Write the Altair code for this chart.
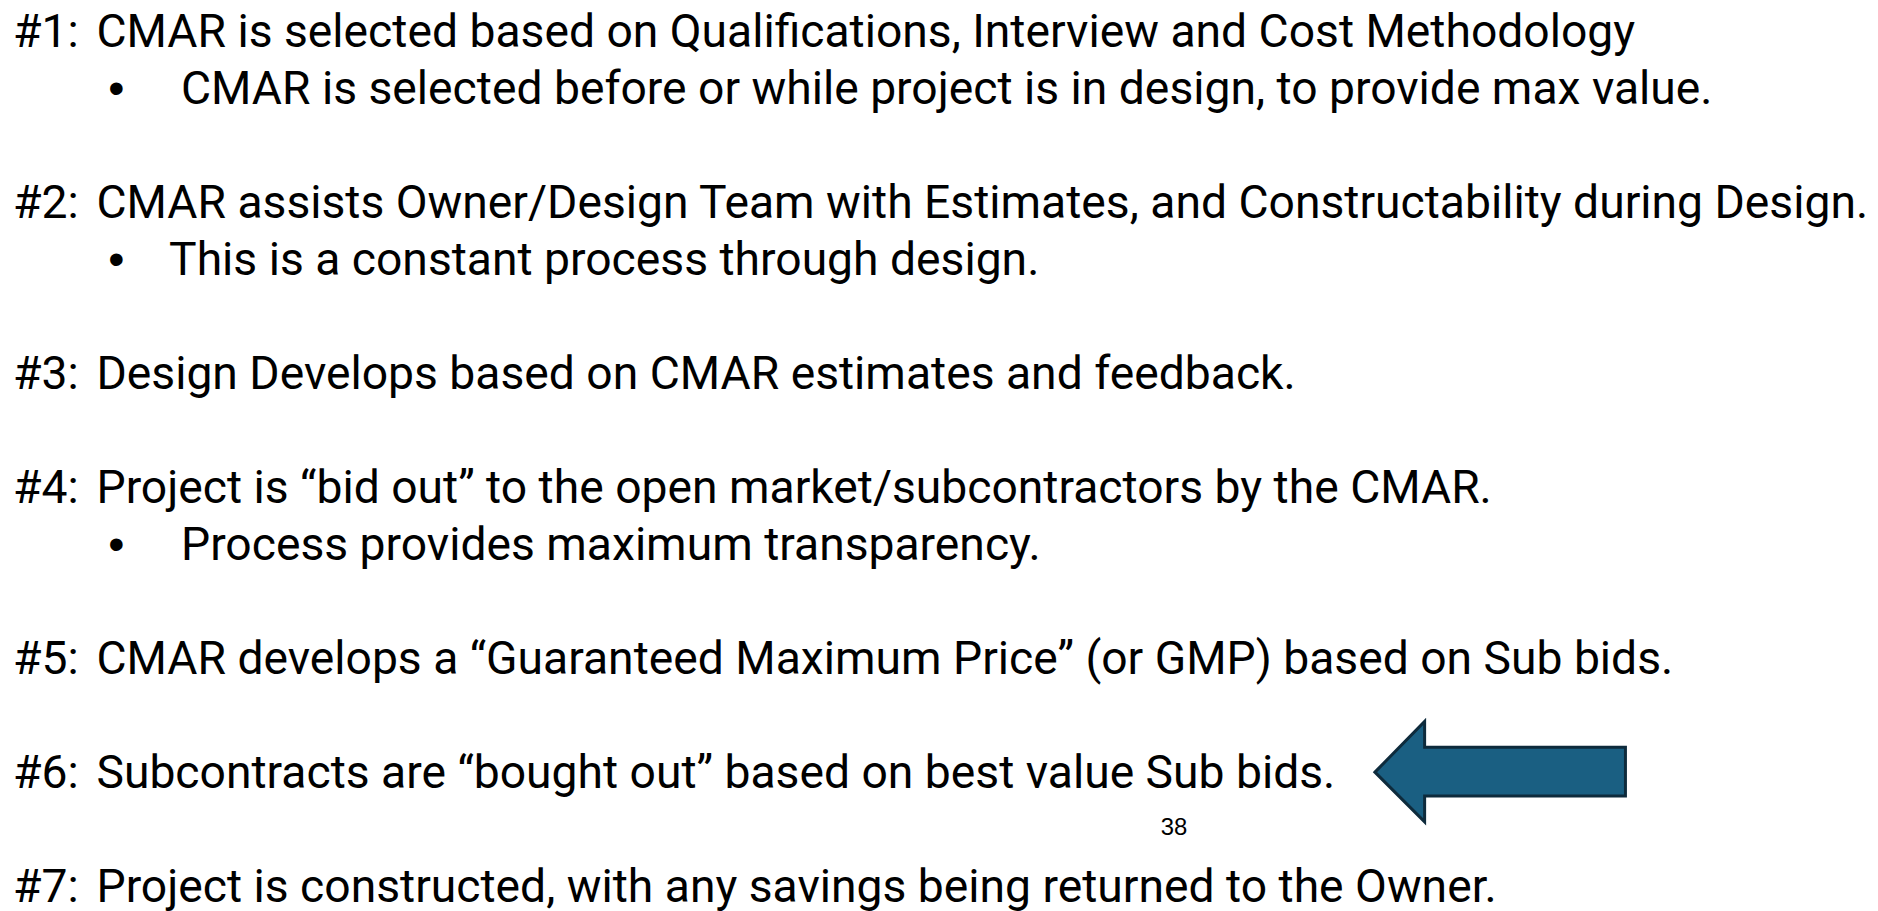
import altair as alt
import pandas as pd

# Slide content
numbers = ["#1:", "#2:", "#3:", "#4:", "#5:", "#6:", "#7:"]
main_lines = [
    "CMAR is selected based on Qualifications, Interview and Cost Methodology",
    "CMAR assists Owner/Design Team with Estimates, and Constructability during Design.",
    "Design Develops based on CMAR estimates and feedback.",
    "Project is \u201cbid out\u201d to the open market/subcontractors by the CMAR.",
    "CMAR develops a \u201cGuaranteed Maximum Price\u201d (or GMP) based on Sub bids.",
    "Subcontracts are \u201cbought out\u201d based on best value Sub bids.",
    "Project is constructed, with any savings being returned to the Owner.",
]
main_rows = [0, 3, 6, 8, 11, 13, 15]
sub_lines = [
    "CMAR is selected before or while project is in design, to provide max value.",
    "This is a constant process through design.",
    "Process provides maximum transparency.",
]
sub_rows = [1, 4, 9]
sub_indent = [1, 0, 1]
page_number = ["38"]

W, H = 1862, 895
FONT = "Roboto"
FS = 46.5

main_df = pd.DataFrame({"num": numbers, "text": main_lines, "row": main_rows})
sub_df = pd.DataFrame({"text": sub_lines, "row": sub_rows, "ind": sub_indent})

xs = alt.Scale(domain=[0, W], range=[0, W], nice=False, zero=False)
ys = alt.Scale(domain=[0, 15], range=[35, 35 + 15 * 57.3], nice=False, zero=False)

nums = alt.Chart(main_df).mark_text(
    align="left", baseline="alphabetic", font=FONT, fontSize=FS, color="#000000"
).encode(x=alt.value(5), y=alt.Y("row:Q", scale=ys, axis=None), text="num:N")

mains = alt.Chart(main_df).mark_text(
    align="left", baseline="alphabetic", font=FONT, fontSize=FS, color="#000000"
).encode(x=alt.value(89), y=alt.Y("row:Q", scale=ys, axis=None), text="text:N")

bullets = alt.Chart(sub_df).mark_text(
    align="center", baseline="alphabetic", font="Liberation Sans", fontSize=FS, color="#000000"
).encode(x=alt.value(109), y=alt.Y("row:Q", scale=ys, axis=None), text=alt.value("\u2022"))

subs = alt.Chart(sub_df).transform_calculate(
    px="datum.ind == 1 ? 174 : 162"
).mark_text(
    align="left", baseline="alphabetic", font=FONT, fontSize=FS, color="#000000"
).encode(x=alt.X("px:Q", scale=xs, axis=None), y=alt.Y("row:Q", scale=ys, axis=None), text="text:N")

# Arrow shape (decorative) in pixel space
arrow_df = pd.DataFrame({
    "ax": [1375, 1425, 1425.01, 1627],
    "ay": [764, 713, 739, 739],
    "ay2": [764, 814, 788, 788],
})
ays = alt.Scale(domain=[0, H], range=[0, H], nice=False, zero=False)
arrow = alt.Chart(arrow_df).mark_area(
    color="#1a5f82", fill="#1a5f82", fillOpacity=1, stroke="#0e2b3c", strokeWidth=3, interpolate="linear"
).encode(
    x=alt.X("ax:Q", scale=xs, axis=None),
    y=alt.Y("ay:Q", scale=ays, axis=None, stack=None),
    y2="ay2:Q",
)

pnum = alt.Chart(pd.DataFrame({"t": page_number})).mark_text(
    align="center", baseline="middle", font="Liberation Sans", fontSize=24, color="#000000"
).encode(x=alt.value(1173), y=alt.value(820), text="t:N")

chart = alt.layer(nums, mains, bullets, subs, pnum).resolve_scale(y="shared")
chart = alt.layer(chart, arrow).resolve_scale(y="independent").properties(
    width=W, height=H, padding=0, background="white"
).configure_view(stroke=None)

chart.save("out.html", embed_options={"renderer": "svg", "actions": False})
